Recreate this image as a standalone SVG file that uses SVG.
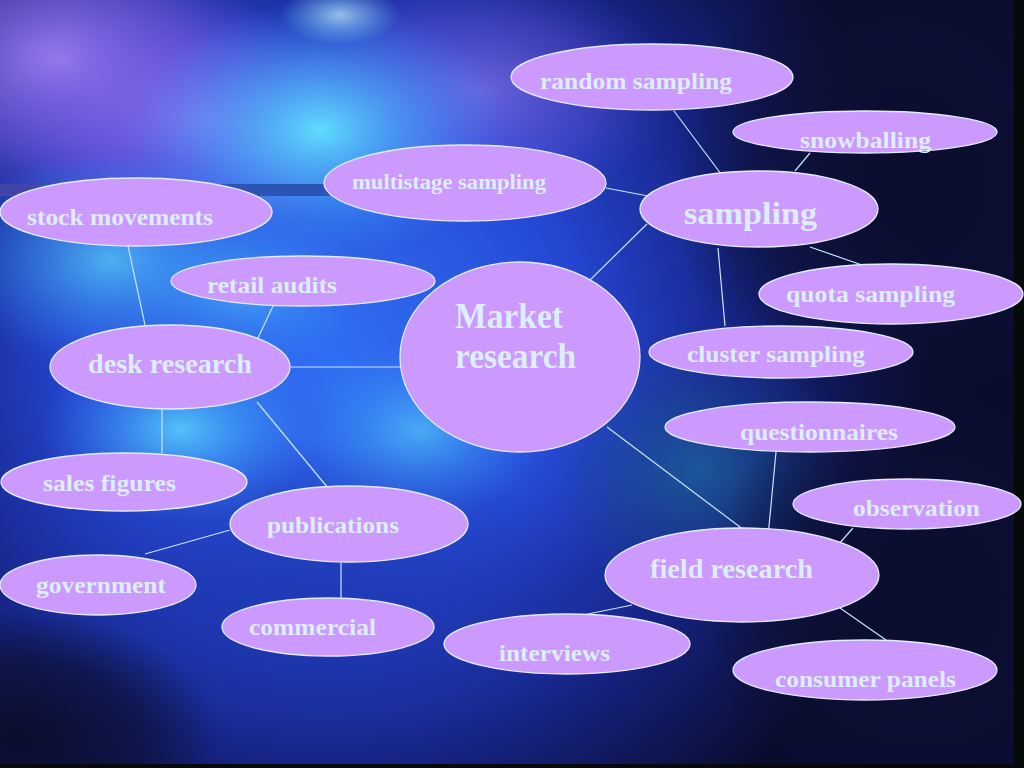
<svg xmlns="http://www.w3.org/2000/svg" width="1024" height="768" viewBox="0 0 1024 768">
<defs>
<radialGradient id="bgMain" cx="330" cy="340" r="600" gradientUnits="userSpaceOnUse">
<stop offset="0" stop-color="#2f6cf0"/>
<stop offset="0.4" stop-color="#2546d2"/>
<stop offset="0.7" stop-color="#162486"/>
<stop offset="1" stop-color="#0a0c2e"/>
</radialGradient>
<radialGradient id="gCyan"><stop offset="0" stop-color="#60e4ff" stop-opacity="0.95"/><stop offset="0.5" stop-color="#48b8ff" stop-opacity="0.5"/><stop offset="1" stop-color="#3a8cff" stop-opacity="0"/></radialGradient>
<radialGradient id="gBlue"><stop offset="0" stop-color="#2f70f4" stop-opacity="0.9"/><stop offset="0.6" stop-color="#2a58e0" stop-opacity="0.5"/><stop offset="1" stop-color="#2040d0" stop-opacity="0"/></radialGradient>
<radialGradient id="gPurple"><stop offset="0" stop-color="#a080f4" stop-opacity="0.95"/><stop offset="0.6" stop-color="#8060e8" stop-opacity="0.5"/><stop offset="1" stop-color="#6050e0" stop-opacity="0"/></radialGradient>
<radialGradient id="gDark"><stop offset="0" stop-color="#0a0d2c" stop-opacity="0.95"/><stop offset="0.6" stop-color="#0c1034" stop-opacity="0.7"/><stop offset="1" stop-color="#0c1034" stop-opacity="0"/></radialGradient>
<radialGradient id="gWhite"><stop offset="0" stop-color="#c8f4ff" stop-opacity="0.7"/><stop offset="1" stop-color="#80e0ff" stop-opacity="0"/></radialGradient>
<radialGradient id="gTeal"><stop offset="0" stop-color="#1e6a9c" stop-opacity="0.7"/><stop offset="1" stop-color="#1a5080" stop-opacity="0"/></radialGradient>
<radialGradient id="gMid"><stop offset="0" stop-color="#1e38b0" stop-opacity="0.85"/><stop offset="1" stop-color="#1a30a0" stop-opacity="0"/></radialGradient>
<style>
.node ellipse{fill:#CC99FF;stroke:#E4ECFF;stroke-width:1.3}
.node text{font-family:"Liberation Serif","Times New Roman",serif;font-weight:bold;fill:#DCEEFF;font-size:23px}
#connectors line{stroke:#C8E4FF;stroke-width:1.2}
</style>
</defs>
<g id="background">
<rect x="0" y="0" width="1024" height="768" fill="#0b0d2e"/>
<rect x="0" y="0" width="1024" height="768" fill="url(#bgMain)"/>
<ellipse cx="330" cy="360" rx="330" ry="300" fill="url(#gBlue)"/>
<ellipse cx="300" cy="600" rx="330" ry="160" fill="url(#gMid)"/>
<ellipse cx="480" cy="90" rx="200" ry="120" fill="url(#gPurple)" opacity="0.6"/>
<ellipse cx="60" cy="60" rx="220" ry="150" fill="url(#gPurple)"/>
<ellipse cx="200" cy="120" rx="200" ry="120" fill="url(#gPurple)" opacity="0.7"/>
<ellipse cx="320" cy="130" rx="190" ry="130" fill="url(#gCyan)"/>
<ellipse cx="110" cy="260" rx="170" ry="110" fill="url(#gCyan)" opacity="0.7"/>
<ellipse cx="180" cy="430" rx="140" ry="90" fill="url(#gCyan)" opacity="0.8"/>
<ellipse cx="420" cy="430" rx="130" ry="90" fill="url(#gCyan)" opacity="0.6"/>
<ellipse cx="250" cy="290" rx="120" ry="80" fill="url(#gCyan)" opacity="0.5"/>
<ellipse cx="700" cy="470" rx="150" ry="130" fill="url(#gTeal)"/>
<ellipse cx="900" cy="180" rx="230" ry="240" fill="url(#gDark)"/>
<ellipse cx="920" cy="600" rx="220" ry="220" fill="url(#gDark)"/>
<ellipse cx="20" cy="740" rx="200" ry="130" fill="url(#gDark)"/>
<ellipse cx="340" cy="15" rx="60" ry="30" fill="url(#gWhite)"/>
<rect x="0" y="184" width="330" height="12" fill="#2c54b4"/>
<rect x="0" y="184" width="40" height="12" fill="#4a40a8" opacity="0.8"/>
<rect x="1014" y="0" width="10" height="768" fill="#060a08"/>
<rect x="0" y="764" width="1024" height="4" fill="#08090f"/>
</g>
<g id="connectors">
<line x1="674" y1="111" x2="724" y2="178"/>
<line x1="810" y1="153" x2="795" y2="171"/>
<line x1="606" y1="188" x2="648" y2="196"/>
<line x1="647" y1="224" x2="590" y2="280"/>
<line x1="810" y1="247" x2="862" y2="265"/>
<line x1="718" y1="248" x2="725" y2="326"/>
<line x1="128" y1="246" x2="145" y2="325"/>
<line x1="273" y1="306" x2="257" y2="340"/>
<line x1="291" y1="367" x2="401" y2="367"/>
<line x1="162" y1="409" x2="162" y2="453"/>
<line x1="257" y1="402" x2="333" y2="494"/>
<line x1="230" y1="530" x2="145" y2="554"/>
<line x1="341" y1="563" x2="341" y2="598"/>
<line x1="607" y1="427" x2="744" y2="530"/>
<line x1="776" y1="452" x2="768" y2="537"/>
<line x1="853" y1="528" x2="838" y2="545"/>
<line x1="632" y1="605" x2="588" y2="614"/>
<line x1="840" y1="608" x2="886" y2="640"/>
</g>
<g id="node-random-sampling" class="node"><ellipse cx="652" cy="77" rx="141" ry="33"/><text x="540" y="89" textLength="192" lengthAdjust="spacingAndGlyphs">random sampling</text></g>
<g id="node-snowballing" class="node"><ellipse cx="865" cy="132" rx="132" ry="21"/><text x="800" y="148" textLength="131" lengthAdjust="spacingAndGlyphs">snowballing</text></g>
<g id="node-multistage-sampling" class="node"><ellipse cx="465" cy="183" rx="141" ry="38"/><text x="352" y="189" style="font-size:20px" textLength="194" lengthAdjust="spacingAndGlyphs">multistage sampling</text></g>
<g id="node-sampling" class="node"><ellipse cx="759" cy="209" rx="119" ry="38"/><text x="684" y="224" style="font-size:32px" textLength="133" lengthAdjust="spacingAndGlyphs">sampling</text></g>
<g id="node-stock-movements" class="node"><ellipse cx="136" cy="212" rx="136" ry="34"/><text x="27" y="225" textLength="186" lengthAdjust="spacingAndGlyphs">stock movements</text></g>
<g id="node-retail-audits" class="node"><ellipse cx="303" cy="281" rx="132" ry="25"/><text x="207" y="293" textLength="130" lengthAdjust="spacingAndGlyphs">retail audits</text></g>
<g id="node-market-research" class="node"><ellipse cx="520" cy="357" rx="120" ry="95"/><text x="455" y="328" style="font-size:35px" textLength="108" lengthAdjust="spacingAndGlyphs">Market</text><text x="455" y="368" style="font-size:35px" textLength="121" lengthAdjust="spacingAndGlyphs">research</text></g>
<g id="node-quota-sampling" class="node"><ellipse cx="891" cy="294" rx="132" ry="30"/><text x="786" y="302" textLength="169" lengthAdjust="spacingAndGlyphs">quota sampling</text></g>
<g id="node-cluster-sampling" class="node"><ellipse cx="781" cy="352" rx="132" ry="26"/><text x="687" y="362" textLength="178" lengthAdjust="spacingAndGlyphs">cluster sampling</text></g>
<g id="node-desk-research" class="node"><ellipse cx="170" cy="367" rx="120" ry="42"/><text x="88" y="373" style="font-size:27px" textLength="164" lengthAdjust="spacingAndGlyphs">desk research</text></g>
<g id="node-questionnaires" class="node"><ellipse cx="810" cy="427" rx="145" ry="25"/><text x="740" y="440" textLength="158" lengthAdjust="spacingAndGlyphs">questionnaires</text></g>
<g id="node-sales-figures" class="node"><ellipse cx="124" cy="482" rx="123" ry="29"/><text x="43" y="491" textLength="133" lengthAdjust="spacingAndGlyphs">sales figures</text></g>
<g id="node-publications" class="node"><ellipse cx="349" cy="524" rx="119" ry="38"/><text x="267" y="533" textLength="132" lengthAdjust="spacingAndGlyphs">publications</text></g>
<g id="node-observation" class="node"><ellipse cx="907" cy="504" rx="114" ry="25"/><text x="853" y="516" textLength="127" lengthAdjust="spacingAndGlyphs">observation</text></g>
<g id="node-field-research" class="node"><ellipse cx="742" cy="575" rx="137" ry="47"/><text x="650" y="578" style="font-size:27px" textLength="163" lengthAdjust="spacingAndGlyphs">field research</text></g>
<g id="node-government" class="node"><ellipse cx="98" cy="585" rx="98" ry="30"/><text x="36" y="593" textLength="130" lengthAdjust="spacingAndGlyphs">government</text></g>
<g id="node-commercial" class="node"><ellipse cx="328" cy="627" rx="106" ry="29"/><text x="249" y="635" textLength="127" lengthAdjust="spacingAndGlyphs">commercial</text></g>
<g id="node-interviews" class="node"><ellipse cx="567" cy="644" rx="123" ry="30"/><text x="499" y="661" textLength="111" lengthAdjust="spacingAndGlyphs">interviews</text></g>
<g id="node-consumer-panels" class="node"><ellipse cx="865" cy="670" rx="132" ry="30"/><text x="775" y="687" textLength="181" lengthAdjust="spacingAndGlyphs">consumer panels</text></g>
</svg>
